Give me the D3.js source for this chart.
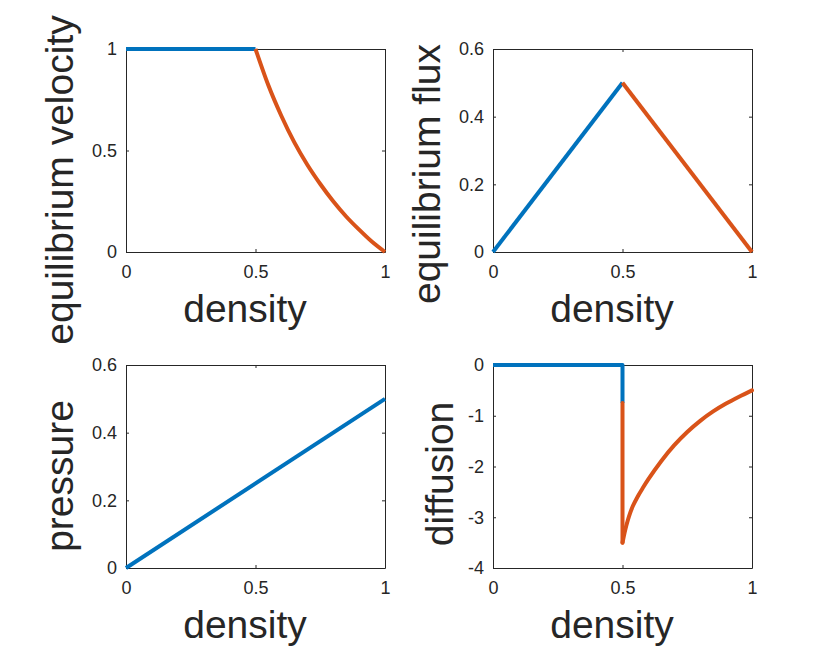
<!DOCTYPE html>
<html>
<head>
<meta charset="utf-8" />
<script src="https://cdn.jsdelivr.net/npm/d3@7"></script>
<title>density</title>
<style>
body { margin: 0; background: #fff; }
text { font-family: "Liberation Sans", Arial, Helvetica, sans-serif; fill: #262626; }
</style>
</head>
<body>
<script>
// tick values
var densityTicks = [0, 0.5, 1];
var velocityTicks = [0, 0.5, 1];
var fluxTicks = [0, 0.2, 0.4, 0.6];
var pressureTicks = [0, 0.2, 0.4, 0.6];
var diffusionTicks = [-4, -3, -2, -1, 0];

// curves: density -> value
var velFreeRho = [0, 0.5];
var velFree = [1, 1];
var velCongRho = [0.5, 0.55, 0.6, 0.65, 0.7, 0.75, 0.8, 0.85, 0.9, 0.95, 1];
var velCong = [1, 0.82, 0.67, 0.54, 0.43, 0.335, 0.25, 0.175, 0.11, 0.05, 0];

var fluxFreeRho = [0, 0.5];
var fluxFree = [0, 0.5];
var fluxCongRho = [0.5, 1];
var fluxCong = [0.5, 0];

var presRho = [0, 1];
var pres = [0, 0.5];

var diffFreeRho = [0, 0.5, 0.5];
var diffFree = [0, 0, -0.75];
var diffJumpRho = [0.5, 0.5];
var diffJump = [-0.75, -3.5];
var diffCongRho = [0.5, 0.51, 0.52, 0.53, 0.54, 0.56, 0.58, 0.6, 0.65, 0.7, 0.75, 0.8, 0.85, 0.9, 0.95, 1];
var diffCong = [-3.5, -3.26, -3.07, -2.91, -2.78, -2.58, -2.41, -2.25, -1.89, -1.58, -1.32, -1.1, -0.915, -0.76, -0.625, -0.5];

var blue = '#0072BD', orange = '#D95319', ink = '#262626';
var W = 830, H = 664;

var svg = d3.select('body').append('svg')
	.attr('width', W)
	.attr('height', H);

function fmt(d) { return String(d); }

function panel(x0, y0, w, h, yDomain, yTicks, ylab, labPos, series) {
	var g = svg.append('g').attr('transform', 'translate(' + x0 + ',' + y0 + ')');
	var x = d3.scaleLinear().domain([0, 1]).range([0, w]);
	var y = d3.scaleLinear().domain(yDomain).range([h, 0]);

	var axes = [
		[d3.axisBottom(x).tickValues(densityTicks).tickFormat(fmt).tickPadding(13.5), 0, h],
		[d3.axisTop(x).tickValues(densityTicks).tickFormat(''), 0, 0],
		[d3.axisLeft(y).tickValues(yTicks).tickFormat(fmt).tickPadding(9), 0, 0],
		[d3.axisRight(y).tickValues(yTicks).tickFormat(''), w, 0]
	];
	axes.forEach(function(a) {
		var ag = g.append('g')
			.attr('transform', 'translate(' + a[1] + ',' + a[2] + ')')
			.call(a[0].tickSizeInner(-3).tickSizeOuter(0));
		ag.selectAll('path, line').attr('stroke', ink).attr('stroke-width', 1);
		ag.selectAll('text').style('font-size', '18px').attr('fill', ink);
		ag.attr('font-family', null);
	});

	series.forEach(function(s) {
		var pts = s.rho.map(function(r, i) { return [r, s.val[i]]; });
		g.append('path')
			.datum(pts)
			.attr('fill', 'none')
			.attr('stroke', s.color)
			.attr('stroke-width', 4)
			.attr('stroke-linejoin', 'round')
			.attr('stroke-linecap', s.cap || 'butt')
			.attr('d', d3.line()
				.x(function(d) { return x(d[0]); })
				.y(function(d) { return y(d[1]); })
				.curve(s.curve || d3.curveLinear));
	});

	svg.append('text')
		.attr('x', x0 + w / 2 - 10.5)
		.attr('y', y0 + h + 70)
		.attr('text-anchor', 'middle')
		.style('font-size', '39px')
		.text('density');

	svg.append('text')
		.attr('transform', 'translate(' + labPos[0] + ',' + labPos[1] + ') rotate(-90)')
		.attr('text-anchor', 'middle')
		.style('font-size', '39px')
		.text(ylab);
}

panel(126, 49, 259, 203, [0, 1], velocityTicks, 'equilibrium velocity', [73, 180], [
	{rho: velFreeRho, val: velFree, color: blue},
	{rho: velCongRho, val: velCong, color: orange, curve: d3.curveMonotoneX}
]);

panel(493, 49, 259, 203, [0, 0.6], fluxTicks, 'equilibrium flux', [440, 174], [
	{rho: fluxFreeRho, val: fluxFree, color: blue},
	{rho: fluxCongRho, val: fluxCong, color: orange}
]);

panel(126, 365, 259, 203, [0, 0.6], pressureTicks, 'pressure', [73, 476], [
	{rho: presRho, val: pres, color: blue}
]);

panel(493, 365, 259, 203, [-4, 0], diffusionTicks, 'diffusion', [453, 474], [
	{rho: diffFreeRho, val: diffFree, color: blue},
	{rho: diffJumpRho, val: diffJump, color: orange, cap: 'round'},
	{rho: diffCongRho, val: diffCong, color: orange, cap: 'round', curve: d3.curveMonotoneX}
]);
</script>
</body>
</html>
